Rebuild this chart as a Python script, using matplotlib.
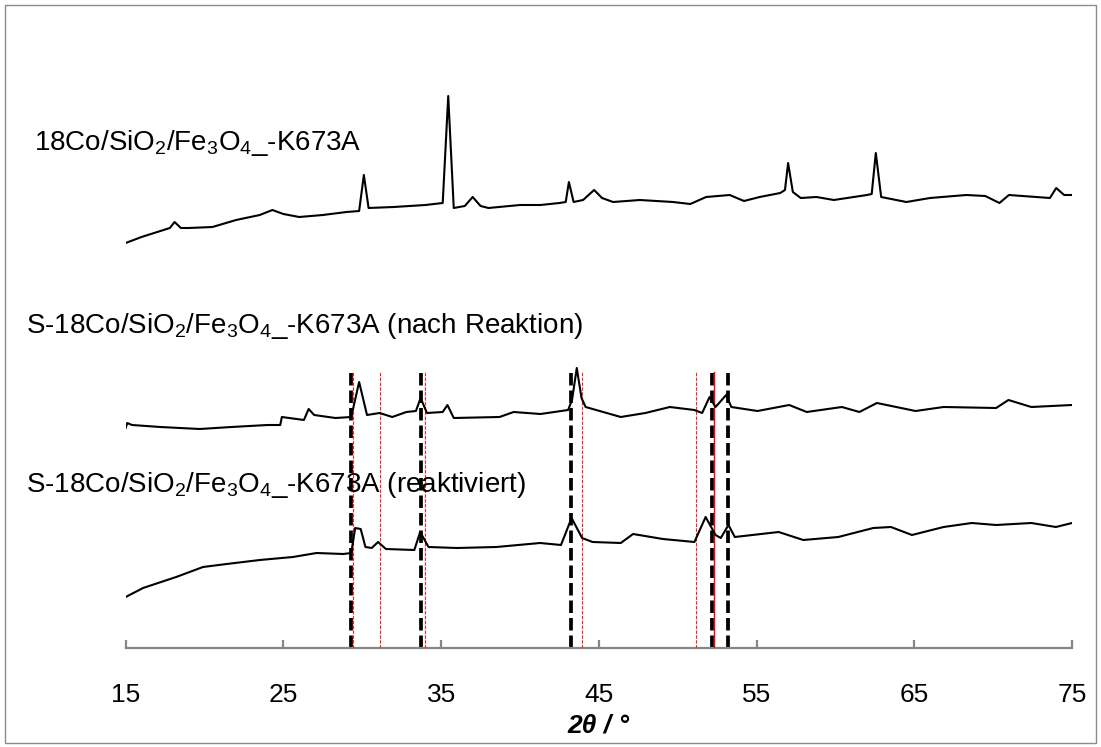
import matplotlib
matplotlib.use("Agg")
import matplotlib.pyplot as plt
from matplotlib.patches import Rectangle

plt.rcParams["font.family"] = ["Liberation Sans", "DejaVu Sans"]
plt.rcParams["mathtext.fontset"] = "custom"
plt.rcParams["mathtext.rm"] = "Liberation Sans"
plt.rcParams["mathtext.it"] = "Liberation Sans:italic"
plt.rcParams["mathtext.bf"] = "Liberation Sans:bold"
plt.rcParams["lines.scale_dashes"] = False

# Diffractograms (2theta in degrees, stacked intensity in arbitrary units)
top_2theta = [15.0, 15.5, 16.0, 17.0, 17.8, 18.1, 18.5, 19.0, 20.5, 22.0, 23.5, 24.3, 25.0,
              26.0, 27.5, 29.0, 29.8, 30.1, 30.4, 32.0, 34.0, 35.1, 35.45, 35.8, 36.5, 37.0,
              37.5, 38.0, 40.0, 41.3, 42.5, 42.9, 43.1, 43.4, 44.0, 44.7, 45.2, 45.9, 47.6,
              49.7, 50.8, 51.8, 53.3, 54.2, 55.2, 56.5, 56.8, 57.0, 57.3, 57.8, 58.8, 59.9,
              62.0, 62.3, 62.56, 62.9, 64.5, 66.0, 68.3, 69.5, 70.4, 71.0, 73.6, 74.0, 74.5,
              75.0]
top_int = [405, 408, 411, 416, 420, 426, 420, 420, 421, 428, 433, 438, 434,
           431, 433, 436, 437, 473, 440, 441, 443, 445, 552, 440, 442, 451,
           442, 440, 443, 443, 445, 446, 466, 446, 448, 458, 450, 446, 448,
           446, 444, 451, 453, 447, 451, 455, 458, 485, 456, 450, 451, 448,
           453, 454, 495, 451, 446, 450, 453, 452, 445, 453, 450, 460, 453,
           453]

mid_2theta = [15.0, 15.1, 15.4, 17.2, 19.7, 21.7, 24.0, 24.8, 24.9, 26.3, 26.6, 26.95, 28.3,
              29.3, 29.8, 30.3, 31.1, 31.9, 32.8, 33.4, 33.7, 34.1, 35.1, 35.4, 35.8, 38.7,
              39.6, 41.3, 43.05, 43.3, 43.6, 43.9, 44.16, 46.39, 47.95, 49.5, 51.06, 51.55,
              52.02, 52.4, 53.07, 53.4, 55.06, 57.07, 58.18, 60.41, 61.52, 62.63, 65.08,
              66.86, 70.19, 70.97, 72.42, 75.0]
mid_int = [220, 225, 223, 221, 219, 221, 223, 223, 231, 228, 239, 233, 230,
           231, 266, 233, 235, 231, 236, 237, 250, 235, 236, 243, 230, 231,
           236, 234, 238, 248, 280, 250, 241, 231, 235, 241, 238, 235,
           251, 241, 253, 241, 237, 243, 236, 241, 236, 245, 237,
           241, 240, 248, 241, 243]

bot_2theta = [15.0, 16.1, 18.2, 19.9, 21.4, 23.5, 25.6, 27.1, 28.8, 29.3, 29.55, 29.9, 30.2,
              30.6, 31.0, 31.5, 33.3, 33.67, 34.2, 36.0, 38.5, 41.28, 42.6, 43.27, 43.94,
              44.6, 46.39, 47.17, 49.06, 51.06, 51.77, 52.4, 52.73, 53.22, 53.62, 56.4,
              57.96, 60.18, 62.4, 63.52, 64.85, 66.86, 68.64, 70.19, 72.42, 73.98, 75.0]
bot_int = [51, 60, 71, 81, 84, 88, 91, 95, 94, 95, 120, 119, 101,
           100, 106, 99, 98, 116, 101, 100, 101, 105, 103, 130, 110,
           106, 105, 114, 109, 106, 131, 113, 110, 123, 111, 116,
           108, 111, 120, 121, 113, 121, 125, 123, 125, 121, 125]

# Reference reflections
ref_black = [29.3, 33.75, 43.23, 52.2, 53.17]
ref_red_dotted = [29.4, 31.15, 34.0, 43.9, 51.15]
ref_red_solid = [52.3]
ref_top = 276

sample_labels = [r"18Co/SiO$_2$/Fe$_3$O$_4$_-K673A",
                 r"S-18Co/SiO$_2$/Fe$_3$O$_4$_-K673A (nach Reaktion)",
                 r"S-18Co/SiO$_2$/Fe$_3$O$_4$_-K673A (reaktiviert)"]
label_pos = [(9.2, 505), (8.7, 322), (8.7, 163)]

xticks = [15, 25, 35, 45, 55, 65, 75]

W, H = 1101, 747
fig = plt.figure(figsize=(W / 100, H / 100), dpi=100)
ax = fig.add_axes([125.7 / W, (H - 648) / H, (1072 - 125.7) / W, (648 - 20) / H])

for x in ref_black:
    ax.plot([x, x], [0, ref_top], color="black", lw=2.7, dashes=(9, 3.6), zorder=2,
            dash_capstyle="butt")
for x in ref_red_dotted:
    ax.plot([x, x], [0, ref_top], color="#ff2020", lw=0.8, dashes=(2.5, 1.0), zorder=3)
for x in ref_red_solid:
    ax.plot([x, x], [-4, ref_top], color="#ff0000", lw=1.0, zorder=3)

for xs, ys in [(top_2theta, top_int), (mid_2theta, mid_int), (bot_2theta, bot_int)]:
    ax.plot(xs, ys, color="black", lw=1.5, zorder=4)

for txt, (x, y) in zip(sample_labels, label_pos):
    ax.text(x, y, txt, fontsize=20, ha="left", va="center", color="black", zorder=5)

ax.set_xlim(15, 75)
ax.set_ylim(0, 628)
ax.set_xticks(xticks)
ax.set_xticklabels([str(t) for t in xticks], fontsize=19)
ax.set_yticks([])
for s in ["left", "right", "top"]:
    ax.spines[s].set_visible(False)
ax.spines["bottom"].set_color("#868686")
ax.spines["bottom"].set_linewidth(1.6)
ax.tick_params(axis="x", direction="in", length=6, width=1.6, color="#868686", pad=25)
ax.set_xlabel("2θ / °", fontsize=19, fontweight="bold", fontstyle="italic", labelpad=5)

fig.patches.append(Rectangle((5 / W, 4 / H), (1096 - 5) / W, (742 - 4) / H,
                             transform=fig.transFigure, fill=False,
                             edgecolor="#8c8c8c", lw=1.0))

fig.savefig("out.png", dpi=100)
